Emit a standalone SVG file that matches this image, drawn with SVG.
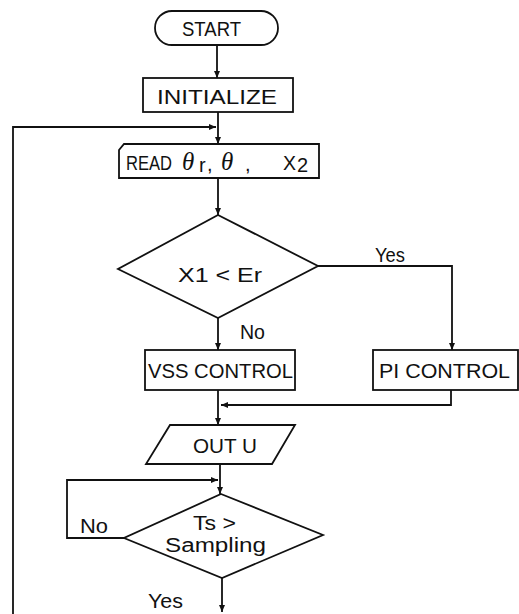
<svg xmlns="http://www.w3.org/2000/svg" width="519" height="614" viewBox="0 0 519 614">
<style>
.s{fill:#fff;stroke:#111;stroke-width:1.8}
.c{fill:none;stroke:#111;stroke-width:1.8}
text{font-family:"Liberation Sans","DejaVu Sans",sans-serif;font-size:20px;fill:#111}
.g{font-family:"Liberation Serif","DejaVu Serif",serif;font-style:italic;font-size:25px}
</style>
<defs>
<marker id="a" markerWidth="8" markerHeight="8" refX="7" refY="4" orient="auto" markerUnits="userSpaceOnUse">
<path d="M0,1 L7,4 L0,7 Z" fill="#111"/>
</marker>
</defs>
<g id="connectors">
<path class="c" d="M217,45 V78" marker-end="url(#a)"/>
<path class="c" d="M218,112 V144" marker-end="url(#a)"/>
<path class="c" d="M13,614 V127 H216" marker-end="url(#a)"/>
<path class="c" d="M218,178 V215" marker-end="url(#a)"/>
<path class="c" d="M218,318 V350" marker-end="url(#a)"/>
<path class="c" d="M318,266 H452 V350" marker-end="url(#a)"/>
<path class="c" d="M218,390 V425" marker-end="url(#a)"/>
<path class="c" d="M451,390 V405 H221" marker-end="url(#a)"/>
<path class="c" d="M220,464 V494" marker-end="url(#a)"/>
<path class="c" d="M124,538 H67 V480 H218" marker-end="url(#a)"/>
<path class="c" d="M222,578 V612" marker-end="url(#a)"/>
<text x="375" y="262" font-size="19" textLength="30" lengthAdjust="spacingAndGlyphs">Yes</text>
<text x="240" y="339" font-size="17" textLength="25" lengthAdjust="spacingAndGlyphs">No</text>
<text x="80" y="533" font-size="19" textLength="28" lengthAdjust="spacingAndGlyphs">No</text>
<text x="148" y="608" font-size="20" textLength="35" lengthAdjust="spacingAndGlyphs">Yes</text>
</g>
<g id="start">
<rect class="s" x="155" y="11" width="123" height="34" rx="17"/>
<text x="182" y="36" font-size="19" textLength="59" lengthAdjust="spacingAndGlyphs">START</text>
</g>
<g id="initialize">
<rect class="s" x="143" y="78" width="150" height="34"/>
<text x="157" y="104" font-size="21" textLength="120" lengthAdjust="spacingAndGlyphs">INITIALIZE</text>
</g>
<g id="read">
<path class="s" d="M124,144 H319 V178 H119 V150 Z"/>
<text x="126" y="170" font-size="19" textLength="46" lengthAdjust="spacingAndGlyphs">READ</text>
<text x="182" y="170" class="g">θ</text>
<text x="199" y="172" font-size="14">r</text>
<text x="207" y="171">,</text>
<text x="221" y="170" class="g">θ</text>
<text x="245" y="171">,</text>
<text x="283" y="170" font-size="19" textLength="13" lengthAdjust="spacingAndGlyphs">X</text>
<text x="297" y="172" font-size="14">2</text>
</g>
<g id="decision1">
<path class="s" d="M218,215 L318,266 L218,318 L118,269 Z"/>
<text x="178" y="282" font-size="17" textLength="84" lengthAdjust="spacingAndGlyphs">X1 &lt; Er</text>
</g>
<g id="vss">
<rect class="s" x="145" y="350" width="150" height="40"/>
<text x="148" y="378" font-size="21" textLength="145" lengthAdjust="spacingAndGlyphs">VSS CONTROL</text>
</g>
<g id="pi">
<rect class="s" x="373" y="350" width="145" height="40"/>
<text x="379" y="378" font-size="21" textLength="131" lengthAdjust="spacingAndGlyphs">PI CONTROL</text>
</g>
<g id="out">
<path class="s" d="M170,425 H295 L272,464 H146 Z"/>
<text x="193" y="453" font-size="22" textLength="64" lengthAdjust="spacingAndGlyphs">OUT U</text>
</g>
<g id="decision2">
<path class="s" d="M221,494 L323,535 L222,578 L124,538 Z"/>
<text x="193" y="530" font-size="20" textLength="43" lengthAdjust="spacingAndGlyphs">Ts &gt;</text>
<text x="165" y="552" font-size="20" textLength="101" lengthAdjust="spacingAndGlyphs">Sampling</text>
</g>
</svg>
